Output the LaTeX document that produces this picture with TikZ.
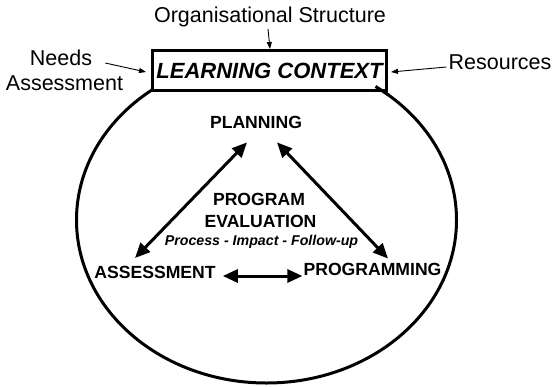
\documentclass[tikz,border=0pt]{standalone}
\usepackage{fontspec}
\setmainfont{Liberation Sans}
\usetikzlibrary{arrows.meta}

\begin{document}
\begin{tikzpicture}[x=1pt,y=-1pt,
    plain/.style={inner sep=0pt,anchor=base,font=\fontsize{21.5}{24}\selectfont},
    stage/.style={inner sep=0pt,anchor=base,font=\fontsize{17.6}{20}\selectfont\bfseries},
    feed/.style={line width=0.9pt,-{Triangle[length=7pt,width=5pt]}},
    link/.style={line width=3pt,{Triangle[length=15pt,width=13pt]}-{Triangle[length=15pt,width=13pt]}}]
    \useasboundingbox (0,0) rectangle (553,386);

    \draw[line width=3pt] (266.5,220) ellipse [x radius=190pt, y radius=163pt];
    \node(Ctx) at (269.5,70.5) [draw, fill=white, line width=3pt, minimum width=234pt, minimum height=40pt,
          font=\fontsize{22}{24}\selectfont\bfseries\itshape] {LEARNING CONTEXT};
    \draw[line width=3pt] (266.5,220) ++(50:190pt and 163pt)
          arc[start angle=50, end angle=55, x radius=190pt, y radius=163pt];

    \node(Org)   [plain] at (270, 22)   {Organisational Structure};
    \node(NeedA) [plain] at ( 61, 65)   {Needs};
    \node(NeedB) [plain] at (64.5, 90)  {Assessment};
    \node(Res)   [plain] at (500, 69)   {Resources};
    \node(Plan)  [stage] at (256, 128)  {PLANNING};
    \node(Ev1)   [stage] at (259, 205)  {PROGRAM};
    \node(Ev2)   [stage] at (260.5, 227.5) {EVALUATION};
    \node(Ev3)   [stage, font=\fontsize{14.2}{16}\selectfont\bfseries\itshape] at (261.5, 245)
          {Process - Impact - Follow-up};
    \node(Ass)   [stage] at (155, 278.5) {ASSESSMENT};
    \node(Prog)  [stage] at (372.5, 275) {PROGRAMMING};

    \draw[feed] ([xshift=-2pt,yshift=-7pt]Org.base) -- ([xshift=0.5pt]Ctx.north);
    \draw[feed] ([xshift=13pt,yshift=2pt]NeedA.base east) -- ([xshift=-5pt,yshift=-1.5pt]Ctx.west);
    \draw[feed] ([xshift=-2pt,yshift=2pt]Res.base west) -- ([xshift=3pt,yshift=-1.5pt]Ctx.east);

    \draw[link] ([xshift=-20pt,yshift=8pt]Ass.north) -- ([xshift=-9pt,yshift=-14pt]Plan.south);
    \draw[link] ([xshift=21pt,yshift=-14pt]Plan.south) -- ([xshift=15.5pt,yshift=4pt]Prog.north);
    \draw[link] ([xshift=7pt,yshift=2.5pt]Ass.base east) -- ([xshift=-1pt,yshift=-1pt]Prog.base west);
  \end{tikzpicture}
\end{document}
